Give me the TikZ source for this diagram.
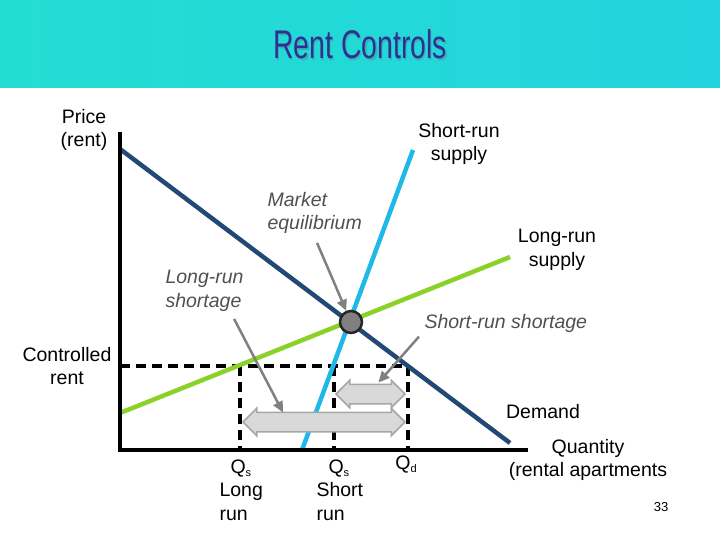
\documentclass[tikz,border=0pt]{standalone}
\usepackage{fontspec}
\setmainfont{Liberation Sans}
\usetikzlibrary{arrows.meta, positioning, shapes.arrows}

\definecolor{barleft}{RGB}{36,221,210}
\definecolor{barright}{RGB}{34,212,222}
\definecolor{titleblue}{RGB}{46,49,146}
\definecolor{demandblue}{RGB}{36,72,118}
\definecolor{srblue}{RGB}{30,185,232}
\definecolor{lrgreen}{RGB}{138,210,40}
\definecolor{pointgray}{RGB}{128,128,128}
\definecolor{notegray}{RGB}{80,80,80}
\definecolor{gapfill}{RGB}{217,217,217}
\definecolor{gapedge}{RGB}{166,166,166}

\newcommand{\qsub}[1]{\raisebox{-3pt}{\fontsize{11}{11}\selectfont #1}}

\begin{document}
\begin{tikzpicture}[x=1pt, y=-1pt, align=center,
    font=\fontsize{19.5}{23.5}\selectfont,
    axis/.style={line width=4pt},
    curve/.style={line width=4.5pt},
    guide/.style={line width=3.5pt, dash pattern=on 10pt off 6pt},
    pointer/.style={draw=pointgray, line width=2.5pt, -{Triangle[length=11pt,width=10pt]}},
    note/.style={font=\fontsize{19.5}{23.5}\selectfont\itshape, text=notegray, align=left},
    gap/.style={double arrow, draw=gapedge, fill=gapfill, line width=1.5pt,
      inner sep=0pt, inner ysep=9pt, double arrow head extend=4pt}]
  \useasboundingbox (0,0) rectangle (720,540);

  % title bar
  \shade[left color=barleft, right color=barright] (0,0) rectangle (720,88);
  \node[text=black!60, opacity=0.3, font=\fontsize{40}{40}\selectfont, inner sep=0pt] at (361.5,46)
    {\scalebox{0.71}[1]{Rent Controls}};
  \node[text=titleblue, font=\fontsize{40}{40}\selectfont, inner sep=0pt] (title) at (360,44.5)
    {\scalebox{0.71}[1]{Rent Controls}};

  % axes
  \coordinate (ytop) at (120,132);
  \coordinate (O) at (120,450);
  \coordinate (xend) at (528,450);

  % rent ceiling and quantities
  \coordinate (crent) at (120,366);
  \coordinate (qlr) at (240,366);
  \coordinate (qsr) at (334,366);
  \coordinate (qd) at (408,366);
  \draw[guide] (crent) -- (qd);
  \foreach \q in {qlr,qsr,qd}
    \draw[guide] (\q) -- (\q |- O);

  % curves
  \coordinate (dtop) at (120,149);
  \coordinate (dend) at (510,443);
  \coordinate (srlow) at (302,450);
  \coordinate (srtop) at (413,150);
  \coordinate (lrlow) at (120,413);
  \coordinate (lrtop) at (510,257);
  \draw[curve, lrgreen] (lrlow) -- (lrtop);
  \draw[curve, demandblue] (dtop) -- (dend);
  \draw[curve, srblue] (srlow) -- (srtop);
  \draw[axis] (ytop) -- (O) -- (xend);

  \node[circle, fill=pointgray, draw=black!85, line width=2.5pt, minimum size=22pt, inner sep=0pt] (eq) at (351,322) {};

  % shortages
  \node[gap, minimum height=69pt] (srgap) at (370.5,394) {};
  \node[gap, minimum height=162pt] (lrgap) at (324,422) {};

  % labels
  \node (price) at (84,130) {Price\\(rent)};
  \node (srlabel) at (459,144) {Short-run\\supply};
  \node (lrlabel) at (557,250) {Long-run\\supply};
  \node (ctrl) at (67,366) {Controlled\\rent};
  \node (demand) at (543,412) {Demand};
  \node[note, anchor=west] (meqnote) at (264,213) {Market\\equilibrium};
  \node[note, anchor=west] (lrnote) at (162,291) {Long-run\\shortage};
  \node[note, anchor=west] (srnote) at (421,323) {Short-run shortage};
  \node[align=left, anchor=west] (qslong) at (216,490) {\hspace{11pt}Q\qsub{s}\\Long\\run};
  \node[align=left, anchor=west] (qsshort) at (313,490) {\hspace{12pt}Q\qsub{s}\\Short\\run};
  \node (qdlabel) at (406,465) {Q\qsub{d}};
  \node (qty) at (588,460) {Quantity\\(rental apartments};
  \node[font=\fontsize{13}{15}\selectfont] (page) at (661,507) {33};

  % pointers
  \draw[pointer, shorten <=6pt] (meqnote.south) -- (eq);
  \draw[pointer] ([xshift=-13pt,yshift=-4pt]lrnote.south east) -- ([xshift=-41pt,yshift=-1pt]lrgap.north);
  \draw[pointer] ([xshift=-2pt,yshift=-1pt]srnote.south west) -- ([xshift=8pt,yshift=1pt]srgap.north);
\end{tikzpicture}
\end{document}
